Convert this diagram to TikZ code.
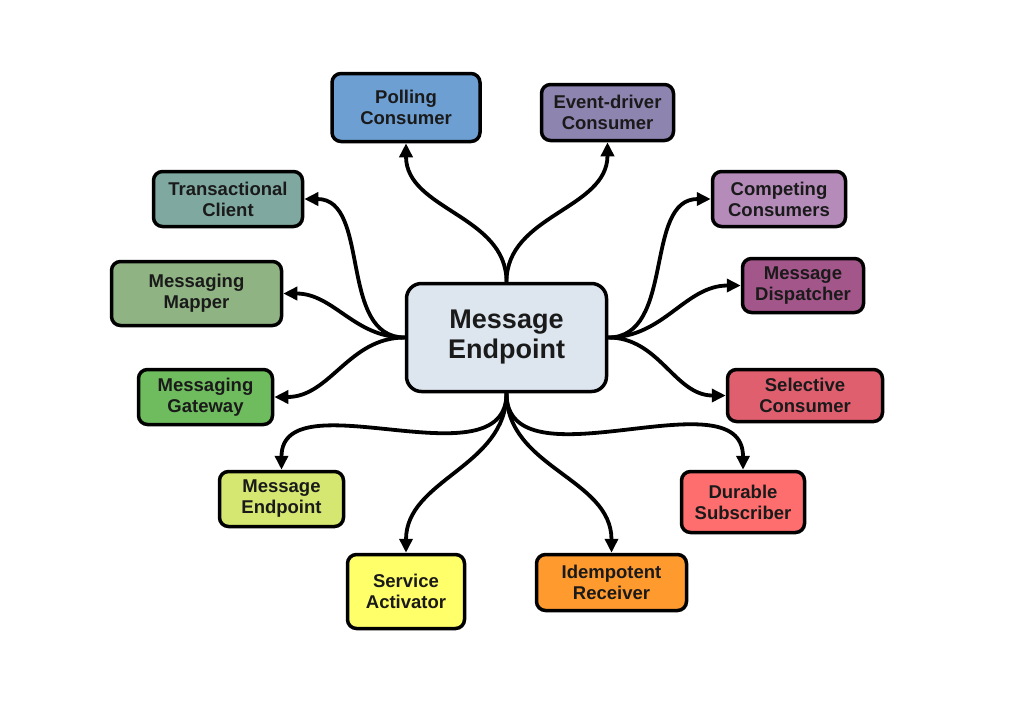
\documentclass[tikz,border=0pt]{standalone}
\usepackage{fontspec}
\setmainfont{Liberation Sans}
\usetikzlibrary{arrows.meta}
\definecolor{cCenter}{HTML}{DDE5EF}
\definecolor{cPoll}{HTML}{6D9FD3}
\definecolor{cEvent}{HTML}{8E84B0}
\definecolor{cTrans}{HTML}{7FA9A0}
\definecolor{cComp}{HTML}{B48BB9}
\definecolor{cMapper}{HTML}{8FB382}
\definecolor{cDisp}{HTML}{A3568A}
\definecolor{cGate}{HTML}{6FBC5F}
\definecolor{cSel}{HTML}{DF5F6F}
\definecolor{cSmall}{HTML}{D5E770}
\definecolor{cDur}{HTML}{FF6E6E}
\definecolor{cServ}{HTML}{FFFF6A}
\definecolor{cIdem}{HTML}{FF9A2E}
\definecolor{cText}{HTML}{1A1A1A}
\tikzset{
  box/.style={draw=black, line width=3.5pt, rounded corners=9pt, align=center,
    inner sep=0pt, text=cText, font=\fontsize{18.5}{21}\selectfont\bfseries},
  bigbox/.style={box, rounded corners=15pt, font=\fontsize{27}{30}\selectfont\bfseries},
  link/.style={line width=3.8pt, -{Triangle[length=14pt,width=13pt]}}
}
\begin{document}
\begin{tikzpicture}[x=1pt,y=-1pt]
\useasboundingbox (0,0) rectangle (1024,724);
\node[bigbox, fill=cCenter, minimum width=200pt, minimum height=108pt] (c) at (506.5,337.5) {Message\\Endpoint};
\node[box, fill=cPoll, minimum width=148pt, minimum height=68pt] (poll) at (406,107.5) {Polling\\Consumer};
\node[box, fill=cEvent, minimum width=132pt, minimum height=56pt] (event) at (607.5,112.5) {Event-driver\\Consumer};
\node[box, fill=cTrans, minimum width=149pt, minimum height=55pt] (trans) at (228,199) {Transactional\\Client};
\node[box, fill=cMapper, minimum width=170pt, minimum height=64pt] (mapper) at (196.5,293.5) {Messaging\\Mapper};
\node[box, fill=cGate, minimum width=134pt, minimum height=55pt] (gate) at (205.5,397) {Messaging\\Gateway};
\node[box, fill=cComp, minimum width=133pt, minimum height=55pt] (comp) at (779,199) {Competing\\Consumers};
\node[box, fill=cDisp, minimum width=121pt, minimum height=54pt] (disp) at (803,285.5) {Message\\Dispatcher};
\node[box, fill=cSel, minimum width=155pt, minimum height=52pt] (sel) at (805,395.5) {Selective\\Consumer};
\node[box, fill=cSmall, minimum width=124pt, minimum height=55pt] (small) at (281.5,499) {Message\\Endpoint};
\node[box, fill=cServ, minimum width=117pt, minimum height=74pt] (serv) at (406,591.5) {Service\\Activator};
\node[box, fill=cIdem, minimum width=150pt, minimum height=56pt] (idem) at (611.5,582.5) {Idempotent\\Receiver};
\node[box, fill=cDur, minimum width=123pt, minimum height=61pt] (dur) at (743,502) {Durable\\Subscriber};
% top
\draw[link] (c.north) to[out=90,in=-90] (poll.south);
\draw[link] (c.north) to[out=90,in=-90] (event.south);
% left
\draw[link] (c.west) to[out=180,in=0] (trans.east);
\draw[link] (c.west) to[out=180,in=0] (mapper.east);
\draw[link] (c.west) to[out=180,in=0] (gate.east);
% right
\draw[link] (c.east) to[out=0,in=180] (comp.west);
\draw[link] (c.east) to[out=0,in=180] (disp.west);
\draw[link] (c.east) to[out=0,in=180] (sel.west);
% bottom
\draw[link] (c.south) to[out=-90,in=90] (small.north);
\draw[link] (c.south) to[out=-90,in=90] (serv.north);
\draw[link] (c.south) to[out=-90,in=90] (idem.north);
\draw[link] (c.south) to[out=-90,in=90] (dur.north);
\end{tikzpicture}
\end{document}
